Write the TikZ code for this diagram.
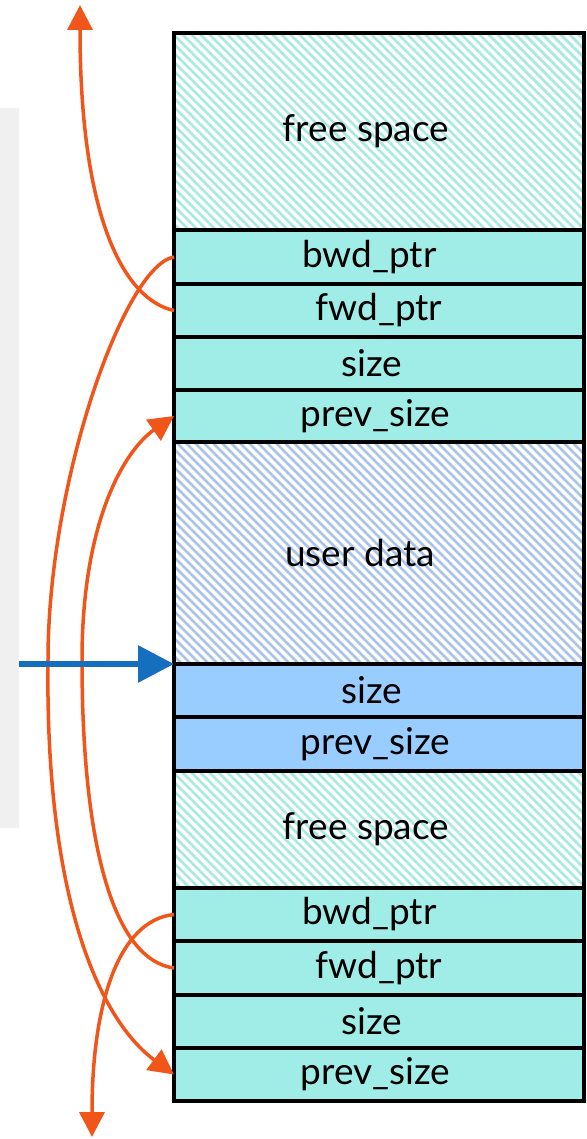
\documentclass[tikz,border=0pt]{standalone}
\usepackage{fontspec}
\setmainfont{Lato}
\usetikzlibrary{arrows.meta,patterns.meta}
\definecolor{cellcyan}{RGB}{160,236,230}
\definecolor{cellblue}{RGB}{153,204,255}
\definecolor{hatchcyan}{RGB}{168,233,226}
\definecolor{hatchblue}{RGB}{170,196,233}
\definecolor{ptrorange}{RGB}{240,85,25}
\definecolor{arrowblue}{RGB}{22,110,190}
\definecolor{stripgray}{RGB}{240,240,240}
\begin{document}
\begin{tikzpicture}[x=1pt,y=-1pt,
  cell/.style={draw=black, line width=3.8pt, minimum width=410pt, inner sep=0pt,
    outer sep=0pt, anchor=north west, font=\fontsize{37}{44}\selectfont},
  cyancell/.style={cell, fill=cellcyan},
  bluecell/.style={cell, fill=cellblue},
  freecell/.style={cell, preaction={fill=white},
    pattern={Lines[angle=-45,distance=6.364pt,line width=2.8pt]}, pattern color=hatchcyan},
  usercell/.style={cell, preaction={fill=white},
    pattern={Lines[angle=-45,distance=6.364pt,line width=2.8pt]}, pattern color=hatchblue},
  ptr/.style={draw=ptrorange, line width=3.5pt, -{Triangle[length=25pt,width=25pt]}},
  cur/.style={draw=arrowblue, line width=6pt, -{Triangle[length=36pt,width=36pt]}}
]
\useasboundingbox (0,0) rectangle (586,1139);
\fill[white] (0,0) rectangle (586,1139);
\fill[stripgray] (0,108) rectangle (19,828);

% first free chunk
\node[freecell, minimum height=197pt] (fs1) at (174,33) {free space\kern26pt};
\node[cyancell, minimum height=54pt] (bwd1) at (174,230) {bwd\_ptr\kern19pt};
\node[cyancell, minimum height=53pt] (fwd1) at (174,284) {fwd\_ptr};
\node[cyancell, minimum height=53pt] (size1) at (174,337) {size\kern15pt};
\node[cyancell, minimum height=52pt] (prev1) at (174,390) {prev\_size\kern7pt};
% allocated chunk
\node[usercell, minimum height=222pt] (ud) at (174,442) {user data\kern38pt};
\node[bluecell, minimum height=53pt] (size2) at (174,664) {size\kern15pt};
\node[bluecell, minimum height=54pt] (prev2) at (174,717) {prev\_size\kern7pt};
% second free chunk
\node[freecell, minimum height=117pt] (fs2) at (174,771) {free space\kern26pt};
\node[cyancell, minimum height=53pt] (bwd2) at (174,888) {bwd\_ptr\kern19pt};
\node[cyancell, minimum height=54pt] (fwd2) at (174,941) {fwd\_ptr};
\node[cyancell, minimum height=53pt] (size3) at (174,995) {size\kern15pt};
\node[cyancell, minimum height=53pt] (prev3) at (174,1048) {prev\_size\kern7pt};

\coordinate (topend) at (80,5);
\coordinate (botend) at (92,1137);
\coordinate (curstart) at (19,664);

% pointers
\draw[ptr] (fwd1.west) .. controls (125,300) and (80,220) .. (topend);
\draw[ptr] (bwd1.west) .. controls (125,265) and (48,480) .. (48,660)
  .. controls (45,900) and (100,1020) .. (prev3.west);
\draw[ptr] (fwd2.west) .. controls (115,960) and (82,850) .. (82,660)
  .. controls (82,520) and (125,450) .. (prev1.west);
\draw[ptr] (bwd2.west) .. controls (120,920) and (92,1000) .. (botend);
\draw[cur] (curstart) -- (size2.north west);
\end{tikzpicture}
\end{document}
